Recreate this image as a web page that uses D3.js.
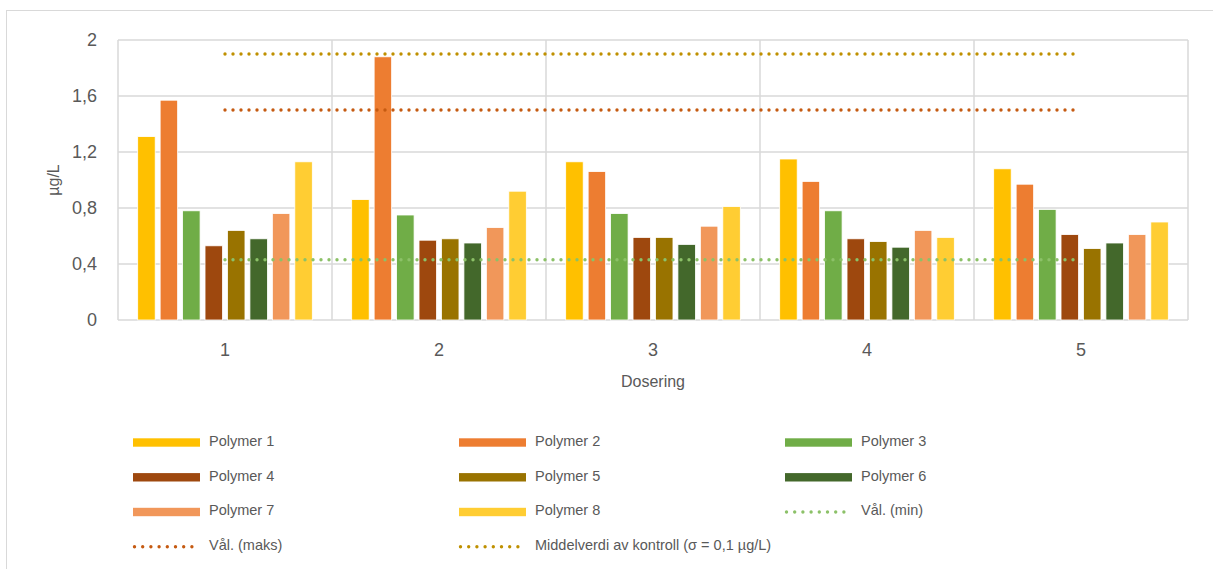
<!DOCTYPE html>
<html>
<head>
<meta charset="utf-8">
<script src="https://cdn.jsdelivr.net/npm/d3@7"></script>
<style>
  html, body { margin: 0; padding: 0; background: #fff; }
  svg { display: block; }
  text { font-family: "Liberation Sans", Arial, sans-serif; fill: #595959; }
</style>
</head>
<body>
<svg id="chart" width="1213" height="569"></svg>
<script>
// Dosering groups on the x axis
const categories = ["1", "2", "3", "4", "5"];

// Measured concentration (µg/L) per polymer, one value per dosering
const seriesNames = ["Polymer 1", "Polymer 2", "Polymer 3", "Polymer 4",
                     "Polymer 5", "Polymer 6", "Polymer 7", "Polymer 8"];
const polymer1 = [1.31, 0.86, 1.13, 1.15, 1.08];
const polymer2 = [1.57, 1.88, 1.06, 0.99, 0.97];
const polymer3 = [0.78, 0.75, 0.76, 0.78, 0.79];
const polymer4 = [0.53, 0.57, 0.59, 0.58, 0.61];
const polymer5 = [0.64, 0.58, 0.59, 0.56, 0.51];
const polymer6 = [0.58, 0.55, 0.54, 0.52, 0.55];
const polymer7 = [0.76, 0.66, 0.67, 0.64, 0.61];
const polymer8 = [1.13, 0.92, 0.81, 0.59, 0.70];

// Reference levels drawn as dotted lines
const valMin    = [0.43, 0.43, 0.43, 0.43, 0.43];
const valMaks   = [1.5, 1.5, 1.5, 1.5, 1.5];
const kontroll  = [1.9, 1.9, 1.9, 1.9, 1.9];
const lineNames = ["Vål. (min)", "Vål. (maks)", "Middelverdi av kontroll (σ = 0,1 µg/L)"];

// Value axis ticks
const yTicks = [0, 0.4, 0.8, 1.2, 1.6, 2];
const yTickLabels = ["0", "0,4", "0,8", "1,2", "1,6", "2"];

const barValues = [polymer1, polymer2, polymer3, polymer4, polymer5, polymer6, polymer7, polymer8];
const barColors = ["#FFC000", "#ED7D31", "#70AD47", "#9E480E", "#997300", "#43682B", "#F1975A", "#FFCD33"];
const lineValues = [valMin, valMaks, kontroll];
const lineColors = ["#8CC168", "#C55A11", "#BF9000"];

const svg = d3.select("#chart");
const W = 1213, H = 569;
const plot = { left: 118, right: 1188, top: 40, bottom: 320 };
const gridColor = "#D9D9D9";

// outer chart frame
svg.append("rect")
  .attr("x", 6.5).attr("y", 10.5)
  .attr("width", W + 20).attr("height", H + 20)
  .attr("fill", "#fff").attr("stroke", gridColor).attr("stroke-width", 1);

const x0 = d3.scaleBand().domain(categories).range([plot.left, plot.right]).padding(0);
const bw = x0.bandwidth();
const x1 = d3.scaleBand().domain(seriesNames)
  .range([bw * 0.092, bw * 0.908]).paddingInner(0.22).paddingOuter(0);
const y = d3.scaleLinear().domain([0, 2]).range([plot.bottom, plot.top]);

// horizontal gridlines
svg.append("g").selectAll("line").data(yTicks).join("line")
  .attr("x1", plot.left).attr("x2", plot.right)
  .attr("y1", d => y(d)).attr("y2", d => y(d))
  .attr("stroke", gridColor).attr("stroke-width", 1.5);

// vertical category separators (incl. both plot edges)
const sepX = categories.map(c => x0(c)).concat([x0(categories[categories.length - 1]) + bw]);
svg.append("g").selectAll("line").data(sepX).join("line")
  .attr("x1", d => d).attr("x2", d => d)
  .attr("y1", plot.top).attr("y2", plot.bottom)
  .attr("stroke", gridColor).attr("stroke-width", 1.5);

// y tick labels
svg.append("g").selectAll("text").data(yTicks).join("text")
  .attr("x", 97).attr("y", d => y(d)).attr("dy", "0.36em")
  .attr("text-anchor", "end").attr("font-size", 18)
  .text((d, i) => yTickLabels[i]);

// x tick labels
svg.append("g").selectAll("text").data(categories).join("text")
  .attr("x", d => x0(d) + bw / 2).attr("y", 356)
  .attr("text-anchor", "middle").attr("font-size", 18)
  .text(d => d);

// axis titles
svg.append("text")
  .attr("x", (plot.left + plot.right) / 2).attr("y", 387)
  .attr("text-anchor", "middle").attr("font-size", 16)
  .text("Dosering");
svg.append("text")
  .attr("transform", `translate(59, ${(plot.top + plot.bottom) / 2}) rotate(-90)`)
  .attr("text-anchor", "middle").attr("font-size", 16)
  .text("µg/L");

// bars
const groups = svg.append("g").selectAll("g").data(categories).join("g")
  .attr("transform", d => `translate(${x0(d)},0)`);
groups.selectAll("rect")
  .data((c, ci) => seriesNames.map((s, si) => ({ s, si, v: barValues[si][ci] })))
  .join("rect")
  .attr("x", d => x1(d.s))
  .attr("y", d => y(d.v))
  .attr("width", x1.bandwidth())
  .attr("height", d => y(0) - y(d.v))
  .attr("fill", d => barColors[d.si])
  .attr("stroke", "#fff").attr("stroke-width", 0.8);

// dotted reference lines through the category centres
const line = d3.line()
  .x((d, i) => x0(categories[i]) + bw / 2)
  .y(d => y(d));
svg.append("g").selectAll("path").data(lineValues).join("path")
  .attr("d", d => line(d))
  .attr("fill", "none")
  .attr("stroke", (d, i) => lineColors[i])
  .attr("stroke-width", 3.4)
  .attr("stroke-linecap", "round")
  .attr("stroke-dasharray", "0 8");

// legend, three columns, row-major
const legendItems = seriesNames.map((n, i) => ({ name: n, color: barColors[i], type: "bar" }))
  .concat(lineNames.map((n, i) => ({ name: n, color: lineColors[i], type: "line" })));
const colX = [133, 459, 785];
const rowY = [442.5, 477.3, 512, 546.7];
const swW = 67;
const leg = svg.append("g").selectAll("g").data(legendItems).join("g")
  .attr("transform", (d, i) => `translate(${colX[i % 3]},${rowY[Math.floor(i / 3)]})`);
leg.filter(d => d.type === "bar").append("rect")
  .attr("x", 0).attr("y", -4.2).attr("width", swW).attr("height", 8.4)
  .attr("fill", d => d.color);
leg.filter(d => d.type === "line").append("line")
  .attr("x1", 1.5).attr("x2", swW).attr("y1", 0).attr("y2", 0)
  .attr("stroke", d => d.color).attr("stroke-width", 3.4)
  .attr("stroke-linecap", "round").attr("stroke-dasharray", "0 8.2");
leg.append("text")
  .attr("x", swW + 9).attr("y", -2).attr("dy", "0.36em")
  .attr("font-size", 14.5)
  .text(d => d.name);
</script>
</body>
</html>
